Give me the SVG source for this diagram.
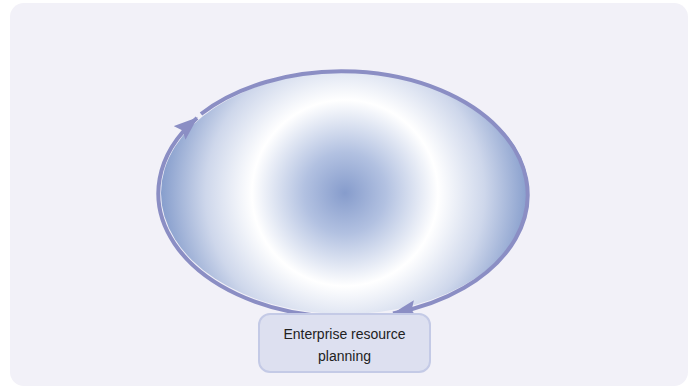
<svg xmlns="http://www.w3.org/2000/svg" width="694" height="389" viewBox="0 0 694 389">
  <defs>
    <radialGradient id="g" gradientUnits="userSpaceOnUse" cx="345" cy="193" r="186">
      <stop offset="0" stop-color="#869ccc"/>
      <stop offset="0.22" stop-color="#b2c1e1"/>
      <stop offset="0.5" stop-color="#ffffff"/>
      <stop offset="0.75" stop-color="#ced7eb"/>
      <stop offset="1" stop-color="#839bcb"/>
    </radialGradient>
    <marker id="ah" markerUnits="userSpaceOnUse" markerWidth="24" markerHeight="18" refX="23" refY="9" orient="auto" viewBox="0 0 24 18">
      <path d="M0,0 L24,9 L0,18 L4,9 Z" fill="#8b8ec4"/>
    </marker>
    <style>
      .bg { fill: #f2f1f8; }
      .arc { fill: none; stroke: #8b8ec4; stroke-width: 4; }
      .node rect { fill: #dde0f0; stroke: #c4cae6; stroke-width: 2; }
      .node text { font-family: "Liberation Sans", Arial, sans-serif; font-size: 14px; fill: #222; text-anchor: middle; }
    </style>
  </defs>
  <rect class="bg" x="10" y="3" width="678" height="383" rx="14"/>
  <ellipse cx="345" cy="193" rx="184" ry="121" fill="url(#g)"/>
  <g id="connectors">
    <path class="arc" d="M330,316.5 A186,123.5 0 0 1 197,118" marker-end="url(#ah)"/>
    <path class="arc" d="M201,114 A186,123.5 0 1 1 393,313.5" marker-end="url(#ah)"/>
  </g>
  <g id="node-erp" class="node">
    <rect x="259" y="314" width="171" height="58" rx="11"/>
    <text x="344.5" y="339">Enterprise resource</text>
    <text x="344.5" y="361">planning</text>
  </g>
</svg>
